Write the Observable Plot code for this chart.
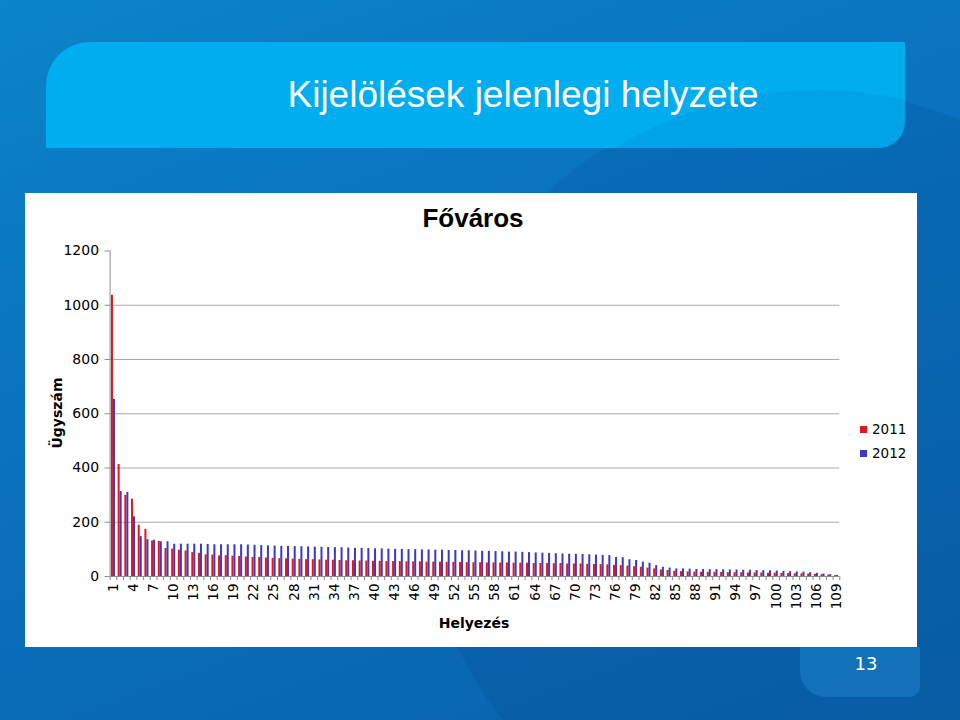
<!DOCTYPE html>
<html>
<head>
<meta charset="utf-8">
<script src="https://cdn.jsdelivr.net/npm/d3@7"></script>
<script src="https://cdn.jsdelivr.net/npm/@observablehq/plot@0.6"></script>
<style>
  html, body { margin: 0; padding: 0; }
  body {
    width: 960px; height: 720px; position: relative; overflow: hidden;
    background: linear-gradient(160deg, #0b84ca 0%, #0a72bf 40%, #0a62ab 100%);
    font-family: "Liberation Sans", Arial, sans-serif;
  }
  .abs { position: absolute; }
  #circle { left: 420px; top: 90px; width: 780px; height: 780px; border-radius: 50%;
    background: rgba(0, 45, 110, 0.11); }
  #banner { left: 46px; top: 42px; width: 859px; height: 106px; background: #00adef;
    border-top-left-radius: 44px; border-bottom-right-radius: 26px; overflow: hidden; }
  #bannerCircle { left: 384px; top: 48px; width: 780px; height: 780px; border-radius: 50%;
    background: rgba(0, 60, 130, 0.08); }
  #title { left: 46px; top: 42px; width: 954px; text-align: center; color: #fff;
    font-size: 37px; line-height: 106px; }
  #panel { left: 25px; top: 193px; width: 892px; height: 454px; background: #fff; }
  #pagebox { left: 800px; top: 647px; width: 120px; height: 50px; background: rgba(40, 150, 220, 0.35);
    border-bottom-left-radius: 26px; border-bottom-right-radius: 10px; }
  #pagenum { left: 800px; top: 650px; width: 132px; text-align: center; color: #fff;
    font-family: "DejaVu Sans", Verdana, sans-serif; font-size: 18px; line-height: 28px; }
  #sub { left: 25px; top: 203px; width: 896px; text-align: center; font-weight: bold; font-size: 26px; color: #000; }
  #ylab { left: 57px; top: 413px; transform: translate(-50%, -50%) rotate(-90deg); font-family: "DejaVu Sans", Verdana, sans-serif;
    font-weight: bold; font-size: 14px; white-space: nowrap; }
  #xlab { left: 474px; top: 623px; transform: translate(-50%, -50%); font-family: "DejaVu Sans", Verdana, sans-serif;
    font-weight: bold; font-size: 14px; white-space: nowrap; }
  .leg { left: 860px; font-family: "DejaVu Sans", Verdana, sans-serif; font-size: 13.5px; line-height: 16px; white-space: nowrap; }
  .sw { display: inline-block; width: 7px; height: 7px; margin-right: 5px; vertical-align: 1px; }
  #chart { left: 25px; top: 193px; }
</style>
</head>
<body>
<div class="abs" id="circle"></div>
<div class="abs" id="banner"><div class="abs" id="bannerCircle"></div></div>
<div class="abs" id="title">Kijelölések jelenlegi helyzete</div>
<div class="abs" id="panel"></div>
<div class="abs" id="pagebox"></div>
<div class="abs" id="pagenum">13</div>
<div class="abs" id="chart"></div>
<div class="abs" id="sub">Főváros</div>
<div class="abs" id="ylab">Ügyszám</div>
<div class="abs" id="xlab">Helyezés</div>
<div class="abs leg" style="top:421px"><span class="sw" style="background:#e3161d"></span>2011</div>
<div class="abs leg" style="top:445px"><span class="sw" style="background:#3a3ac2"></span>2012</div>
<script>
// Category labels (rank positions 1..109)
const ranks = Array.from({length: 109}, (_, i) => i + 1);
const xTickLabels = ranks.filter(r => (r - 1) % 3 === 0);
const yTicks = [0, 200, 400, 600, 800, 1000, 1200];
const years = ["2011", "2012"];

// Case counts
const v2011 = [
  1037, 413, 299, 285, 189, 174, 131, 129, 103, 101,
  97, 94, 88, 85, 80, 79, 76, 77, 75, 74,
  72, 70, 70, 68, 67, 66, 65, 64, 63, 62,
  62, 61, 60, 60, 59, 58, 58, 57, 57, 56,
  56, 55, 55, 55, 54, 54, 54, 53, 53, 53,
  52, 52, 52, 51, 51, 51, 50, 50, 50, 50,
  49, 49, 49, 48, 48, 48, 47, 48, 46, 46,
  46, 45, 44, 44, 43, 41, 40, 38, 36, 34,
  31, 28, 24, 22, 19, 18, 17, 16, 16, 15,
  15, 15, 14, 14, 14, 13, 13, 13, 12, 12,
  11, 11, 10, 10, 9, 8, 7, 5, 3
];
const v2012 = [
  653, 313, 310, 220, 147, 136, 134, 128, 128, 119,
  119, 119, 119, 119, 118, 117, 117, 117, 117, 117,
  116, 115, 114, 113, 112, 111, 111, 110, 110, 109,
  108, 108, 107, 106, 106, 105, 104, 104, 103, 102,
  102, 101, 100, 100, 99, 99, 98, 98, 97, 97,
  96, 96, 95, 95, 94, 93, 93, 92, 91, 90,
  90, 89, 88, 87, 86, 85, 84, 83, 82, 82,
  81, 80, 79, 78, 77, 70, 69, 62, 59, 53,
  49, 40, 34, 31, 28, 28, 27, 26, 26, 25,
  25, 25, 24, 24, 23, 23, 22, 22, 21, 20,
  19, 18, 17, 16, 14, 12, 9, 7, 4
];

const red = "#e3161d", blue = "#3a3ac2";
const rows2011 = ranks.map((r, i) => ({rank: r, year: years[0], v: v2011[i]}));
const rows2012 = ranks.map((r, i) => ({rank: r, year: years[1], v: v2012[i]}));

const W = 892, H = 454, mL = 84.6, mR = 77.7, mT = 57.5, mB = 71;
const bw = (W - mL - mR) / ranks.length;

const chart = Plot.plot({
  width: W, height: H,
  marginLeft: mL, marginRight: mR, marginTop: mT, marginBottom: mB,
  style: {background: "transparent", fontFamily: "DejaVu Sans, Verdana, sans-serif", fontSize: "14px", color: "#000"},
  x: {type: "band", domain: ranks, padding: 0, label: null},
  y: {domain: [0, 1200], label: null},
  marks: [
    Plot.ruleY([200, 400, 600, 800, 1000], {stroke: "#a9a9a9", strokeWidth: 1}),
    Plot.barY(rows2011, {x: "rank", y: "v", fill: red, insetLeft: bw * 0.2, insetRight: bw * 0.5}),
    Plot.barY(rows2012, {x: "rank", y: "v", fill: blue, insetLeft: bw * 0.5, insetRight: bw * 0.2}),
    Plot.ruleY([0], {stroke: "#8c8c8c"}),
    Plot.ruleX([1], {y1: 0, y2: 1200, dx: -bw / 2, stroke: "#8c8c8c"}),
    Plot.ruleX(ranks, {x: d => d, y1: 0, y2: -15, dx: -bw / 2, stroke: "#8c8c8c"}),
    Plot.ruleX([109], {y1: 0, y2: -15, dx: bw / 2, stroke: "#8c8c8c"}),
    Plot.axisY({ticks: yTicks, tickSize: 5, tickPadding: 6, stroke: "#8c8c8c", label: null, fontSize: 14, tickFormat: d => String(d)}),
    Plot.axisX({ticks: xTickLabels, tickSize: 0, tickPadding: 7, tickRotate: -90, label: null, fontSize: 13.5, tickFormat: d => String(d)})
  ]
});
document.getElementById("chart").appendChild(chart);
</script>
</body>
</html>
